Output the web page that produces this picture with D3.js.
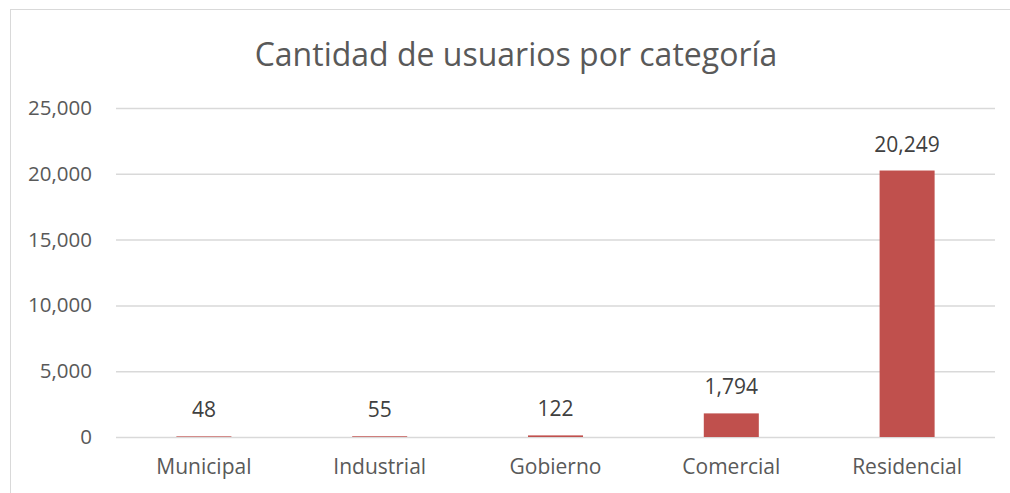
<!DOCTYPE html>
<html>
<head>
<meta charset="utf-8">
<script src="https://cdn.jsdelivr.net/npm/d3@7"></script>
<style>
  body { margin: 0; background: #fff; }
  svg text { font-family: "Open Sans", "DejaVu Sans", sans-serif; }
</style>
</head>
<body>
<div id="chart"></div>
<script>
// data
var categories = ["Municipal", "Industrial", "Gobierno", "Comercial", "Residencial"];
var usuarios = [48, 55, 122, 1794, 20249];
var yTicks = [0, 5000, 10000, 15000, 20000, 25000];

var W = 1010, H = 493;
var margin = {top: 108, right: 15, bottom: 56, left: 116},
    width = W - margin.left - margin.right,
    height = H - margin.top - margin.bottom;

var svg = d3.select("#chart").append("svg")
    .attr("width", W)
    .attr("height", H);

// outer chart frame (cropped at right/bottom)
svg.append("rect")
    .attr("x", 10.5).attr("y", 9.5)
    .attr("width", W + 10).attr("height", H + 10)
    .attr("fill", "none")
    .attr("stroke", "#d9d9d9")
    .attr("stroke-width", 1);

svg.append("text")
    .attr("x", 516)
    .attr("y", 66)
    .attr("text-anchor", "middle")
    .style("font-size", "32px")
    .style("fill", "#595959")
    .text("Cantidad de usuarios por categoría");

var g = svg.append("g")
    .attr("transform", "translate(" + margin.left + "," + margin.top + ")");

var x = d3.scaleBand().domain(categories).range([0, width]).paddingInner(0.687).paddingOuter(0.3435);
var y = d3.scaleLinear().domain([0, 25000]).range([height, 0]);

// gridlines + y labels
var yAxis = g.append("g")
    .call(d3.axisLeft(y).tickValues(yTicks).tickSize(-width).tickFormat(d3.format(",")).tickPadding(24));
yAxis.select(".domain").remove();
yAxis.selectAll(".tick line").attr("stroke", "#d9d9d9").attr("stroke-width", 1.5);
yAxis.selectAll(".tick text").style("font-size", "20.5px").style("fill", "#595959");

// bars
g.selectAll(".bar")
    .data(usuarios)
    .enter().append("rect")
    .attr("class", "bar")
    .attr("x", function(d, i) { return x(categories[i]); })
    .attr("width", x.bandwidth())
    .attr("y", function(d) { return y(d); })
    .attr("height", function(d) { return height - y(d); })
    .attr("fill", "#c0504d");

// data labels
g.selectAll(".lbl")
    .data(usuarios)
    .enter().append("text")
    .attr("class", "lbl")
    .attr("x", function(d, i) { return x(categories[i]) + x.bandwidth() / 2; })
    .attr("y", function(d) { return y(d) - 19; })
    .attr("text-anchor", "middle")
    .style("font-size", "21px")
    .style("fill", "#404040")
    .text(function(d) { return d3.format(",")(d); });

// x axis labels
var xAxis = g.append("g")
    .attr("transform", "translate(0," + height + ")")
    .call(d3.axisBottom(x).tickSize(0).tickPadding(22));
xAxis.select(".domain").remove();
xAxis.selectAll(".tick text").style("font-size", "21px").style("fill", "#595959");
</script>
</body>
</html>
